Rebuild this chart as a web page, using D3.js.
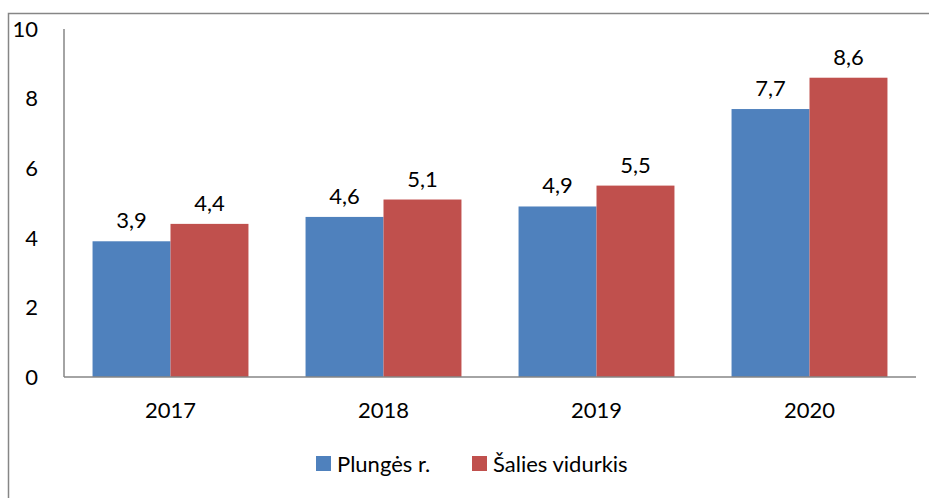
<!DOCTYPE html>
<html>
<head>
<meta charset="utf-8">
<script src="https://cdn.jsdelivr.net/npm/d3@7"></script>
<style>
  body { margin: 0; background: #fff; }
  text { font-family: Lato, "Open Sans", sans-serif; fill: #000; }
</style>
</head>
<body>
<svg id="chart" width="929" height="498"></svg>
<script>
var years = ["2017", "2018", "2019", "2020"],
    seriesNames = ["Plungės r.", "Šalies vidurkis"],
    plunge = [3.9, 4.6, 4.9, 7.7],
    salies = [4.4, 5.1, 5.5, 8.6],
    yTicks = [0, 2, 4, 6, 8, 10],
    colors = ["#4f81bd", "#c0504d"];

var svg = d3.select("#chart"),
    pLeft = 64, pRight = 916, pTop = 29, pBottom = 377,
    fs = 22;

// outer frame
svg.append("rect")
    .attr("x", 8.5).attr("y", 13.5)
    .attr("width", 940).attr("height", 500)
    .attr("fill", "none").attr("stroke", "#868686").attr("stroke-width", 1.5);

var x = d3.scaleBand().domain(years).range([pLeft, pRight]).paddingInner(0.268).paddingOuter(0.134),
    xs = d3.scaleBand().domain([0, 1]).range([0, x.bandwidth()]),
    y = d3.scaleLinear().domain([0, 10]).range([pBottom, pTop]);

// y axis labels
svg.selectAll(".ytick").data(yTicks).enter().append("text")
    .attr("x", 38).attr("y", function(d){ return y(d); })
    .attr("dy", "0.35em").attr("text-anchor", "end")
    .attr("font-size", fs)
    .text(function(d){ return d; });

var data = years.map(function(yr, i){ return { year: yr, vals: [plunge[i], salies[i]] }; });

var g = svg.selectAll(".grp").data(data).enter().append("g")
    .attr("transform", function(d){ return "translate(" + x(d.year) + ",0)"; });

g.selectAll("rect").data(function(d){ return d.vals; }).enter().append("rect")
    .attr("x", function(d, i){ return xs(i); })
    .attr("y", function(d){ return y(d); })
    .attr("width", xs.bandwidth())
    .attr("height", function(d){ return y(0) - y(d); })
    .attr("fill", function(d, i){ return colors[i]; });

g.selectAll(".lbl").data(function(d){ return d.vals; }).enter().append("text")
    .attr("x", function(d, i){ return xs(i) + xs.bandwidth() / 2; })
    .attr("y", function(d){ return y(d) - 13; })
    .attr("text-anchor", "middle").attr("font-size", fs)
    .text(function(d){ return d3.format(".1f")(d).replace(".", ","); });

// axes lines
svg.append("line").attr("x1", pLeft).attr("x2", pLeft).attr("y1", pTop).attr("y2", pBottom)
    .attr("stroke", "#868686").attr("stroke-width", 1.5);
svg.append("line").attr("x1", pLeft).attr("x2", pRight).attr("y1", pBottom).attr("y2", pBottom)
    .attr("stroke", "#868686").attr("stroke-width", 1.5);

// year labels
svg.selectAll(".xl").data(years).enter().append("text")
    .attr("x", function(d){ return x(d) + x.bandwidth() / 2; })
    .attr("y", 418).attr("text-anchor", "middle").attr("font-size", fs)
    .text(function(d){ return d; });

// legend
var legX = [316, 472];
var leg = svg.selectAll(".leg").data(seriesNames).enter().append("g")
    .attr("transform", function(d, i){ return "translate(" + legX[i] + ",456)"; });
leg.append("rect").attr("width", 15).attr("height", 15)
    .attr("fill", function(d, i){ return colors[i]; });
leg.append("text").attr("x", 21).attr("y", 8).attr("dy", "0.35em")
    .attr("font-size", fs).text(function(d){ return d; });
</script>
</body>
</html>
